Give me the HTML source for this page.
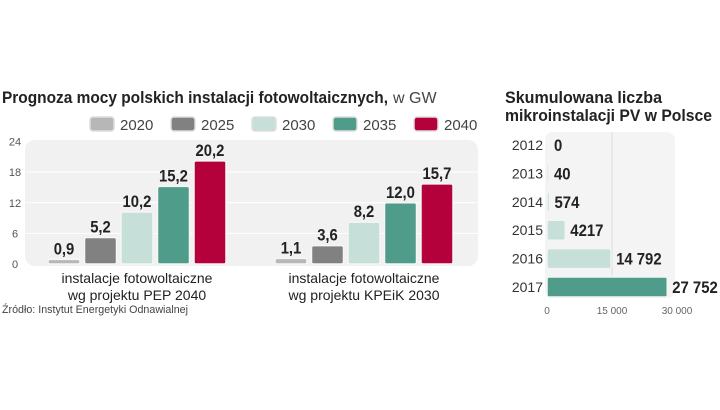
<!DOCTYPE html>
<html><head><meta charset="utf-8">
<style>
body{margin:0;background:#fff;width:720px;height:405px;overflow:hidden;font-family:"Liberation Sans",sans-serif;}
svg text{font-family:"Liberation Sans",sans-serif;}
.val{font-family:"Liberation Sans Narrow","Liberation Sans",sans-serif;font-weight:bold;font-size:17px;fill:#222;}
</style></head>
<body>
<svg id="c" width="720" height="405">
<text x="2" y="103" font-size="17" font-weight="bold" fill="#222" textLength="386" lengthAdjust="spacingAndGlyphs">Prognoza mocy polskich instalacji fotowoltaicznych,</text>
<text x="393" y="103" font-size="16" fill="#444">w GW</text>
<text x="505" y="103" font-size="17" font-weight="bold" fill="#222" textLength="157" lengthAdjust="spacingAndGlyphs">Skumulowana liczba</text>
<text x="505" y="121" font-size="17" font-weight="bold" fill="#222" textLength="207" lengthAdjust="spacingAndGlyphs">mikroinstalacji PV w Polsce</text>
<rect x="25" y="140" width="453" height="126" rx="10" fill="#f1f1f1"/>
<rect x="545" y="132" width="130" height="166" rx="8" fill="#f4f4f4"/>
<g id="left"></g>
<g id="right"></g>
<text x="2" y="313" font-size="11" fill="#444" textLength="186" lengthAdjust="spacingAndGlyphs">Źródło: Instytut Energetyki Odnawialnej</text>
</svg>
<script>
const years=["2020","2025","2030","2035","2040"];
const colors=["#b7b7b7","#818181","#c6e0d9","#4f9c8a","#b4003b"];
const groups=["PEP 2040","KPEiK 2030"];
const pep=[0.9,5.2,10.2,15.2,20.2];
const kpeik=[1.1,3.6,8.2,12.0,15.7];
const yTicks=[0,6,12,18,24];
const pvYears=["2012","2013","2014","2015","2016","2017"];
const pvValues=[0,40,574,4217,14792,27752];
const pvTicks=[0,15000,30000];
const pvColors=["#c6e0d9","#c6e0d9","#c6e0d9","#c6e0d9","#c6e0d9","#4f9c8a"];

const NS="http://www.w3.org/2000/svg";
function mk(p,t,a){const e=document.createElementNS(NS,t);for(const k in a)e.setAttribute(k,a[k]);p.appendChild(e);return e;}
function narrow(t,s){let w=0;for(const ch of s){w+=(ch===','?4:ch===' '?4:8.3);}t.setAttribute('textLength',w);t.setAttribute('lengthAdjust','spacingAndGlyphs');}
const L=document.getElementById('left'),R=document.getElementById('right');
const y0=264,y1=141.5;
const yS=v=>y0-(v/24)*(y0-y1);
const fmt=v=>v.toFixed(1).replace('.',',');

yTicks.forEach(t=>{
 const tx=mk(L,'text',{x:15,y:yS(t)+4,'font-size':11,fill:'#555','text-anchor':'middle'});
 tx.textContent=t;
 
 
 if(t>0&&t<24){const g=mk(L,'line',{x1:25,x2:478,y1:yS(t),y2:yS(t),stroke:'#fff','stroke-width':1});
 
 }
});
years.forEach((y,i)=>{
 const lx=90+i*81;
 const r=mk(L,'rect',{x:lx,y:117,width:24,height:14,rx:3,fill:colors[i],stroke:'#ddd','stroke-width':1.5});
 
 
 const t=mk(L,'text',{x:lx+30,y:130,'font-size':15,fill:'#444'});t.textContent=y;
 
 
});
const series=[pep,kpeik];const gx=[48,275];
series.forEach((arr,g)=>{
 arr.forEach((v,i)=>{
  const x=gx[g]+i*36.5,top=yS(v),h=Math.max(y0-top,3);
  const b=mk(L,'rect',{x:x,y:y0-h,width:32,height:h,rx:2,fill:colors[i],stroke:'#f6f6f6','stroke-width':1.5});
  
  
  const t=mk(L,'text',{x:x+16,y:y0-h-5,'text-anchor':'middle',class:'val'});t.textContent=fmt(v);
  narrow(t,fmt(v));
  
  
 });
 const cx=gx[g]+89;
 const l1=mk(L,'text',{x:cx,y:283,'text-anchor':'middle','font-size':14,fill:'#222'});l1.textContent='instalacje fotowoltaiczne';
 
 
 const l2=mk(L,'text',{x:cx,y:300,'text-anchor':'middle','font-size':14,fill:'#222'});l2.textContent='wg projektu '+groups[g];
 
 
});
const x0=547,xS=v=>x0+(v/30000)*130;
const gl=mk(R,'line',{x1:xS(15000),x2:xS(15000),y1:132,y2:298,stroke:'#ddd','stroke-width':1});


const grp=v=>String(v).replace(/(\d)(\d{3})$/,'$1 $2');
pvTicks.forEach(t=>{
 const tx=mk(R,'text',{x:xS(t),y:314,'font-size':10,fill:'#666','text-anchor':'middle'});
 tx.textContent=t===0?'0':grp(t);
 
 
});
pvYears.forEach((y,i)=>{
 const cy=145+i*28.4;
 const lab=mk(R,'text',{x:543,y:cy+5,'text-anchor':'end','font-size':14,fill:'#333'});lab.textContent=y;
 
 
 const v=pvValues[i];const w=xS(v)-x0;
 if(v>0){const b=mk(R,'rect',{x:x0,y:cy-10,width:Math.max(w,2),height:20,rx:2,fill:pvColors[i],stroke:'#f4f4f4','stroke-width':1.5});
 
 }
 const s=v>=10000?grp(v):String(v);
 const t=mk(R,'text',{x:x0+Math.max(w,2)+5,y:cy+6,class:'val'});
 t.textContent=s;
 narrow(t,s);
 
 
});
</script>
</body></html>
